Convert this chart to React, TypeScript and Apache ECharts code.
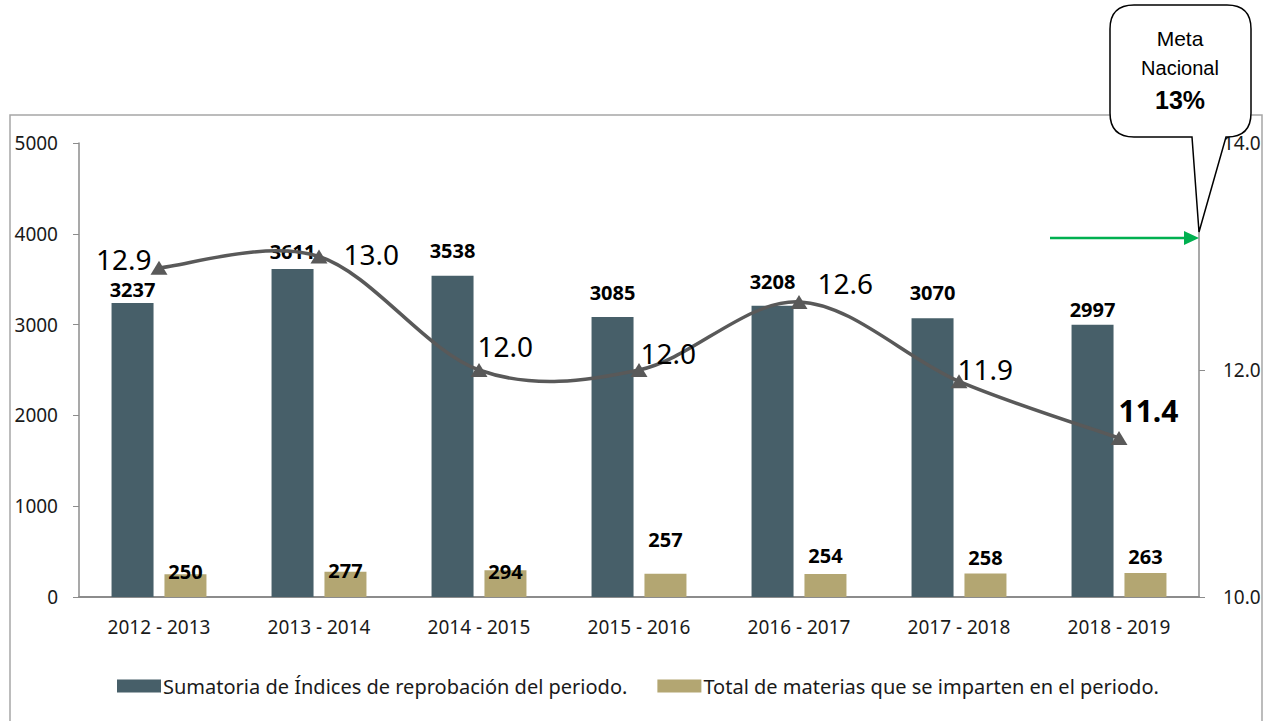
import React, { useEffect, useRef } from "react";
import * as echarts from "echarts";

const categories = [
  "2012 - 2013",
  "2013 - 2014",
  "2014 - 2015",
  "2015 - 2016",
  "2016 - 2017",
  "2017 - 2018",
  "2018 - 2019",
];
const sumatoria = [3237, 3611, 3538, 3085, 3208, 3070, 2997];
const materias = [250, 277, 294, 257, 254, 258, 263];
const indice = [12.9, 13.0, 12.0, 12.0, 12.6, 11.9, 11.4];

const seriesNames = [
  "Sumatoria de Índices de reprobación del periodo.",
  "Total de materias que se imparten en el periodo.",
];
const calloutLines = ["Meta", "Nacional", "13%"];

// label placement (style only)
const darkLabelDist = [4, 8, 15, 14, 14, 16, 5];
const tanLabelDist = [-7, -9, -11, 24, 8, 6, 7];
const lineLabelCfg = [
  { position: "left", offset: [6, -9] },
  { position: "right", offset: [11, -3] },
  { position: "right", offset: [-15, -24] },
  { position: "right", offset: [-12, -17] },
  { position: "right", offset: [5, -19] },
  { position: "right", offset: [-15, -12] },
  { position: "right", offset: [-14, -28], bold: true },
];

const FONT = "'Noto Sans', 'Open Sans', sans-serif";
const DARK = "#475f69";
const TAN = "#b3a672";
const LINE = "#595959";

const CALLOUT_D =
  "M1134,5 H1227 Q1251,5 1251,29 V113 Q1251,137 1227,137 H1226 L1199,232 L1192,137 H1134 Q1110,137 1110,113 V29 Q1110,5 1134,5 Z";

let registered = false;

export default function App() {
  const ref = useRef<HTMLDivElement>(null);

  useEffect(() => {
    document.body.style.margin = "0";
    if (!registered) {
      echarts.graphic.registerShape(
        "callout",
        echarts.graphic.extendPath(CALLOUT_D, {}) as any
      );
      registered = true;
    }
    const chart = echarts.init(ref.current!, null, { renderer: "svg" });

    const n = indice.length;
    const clampIdx = (k: number) => Math.max(0, Math.min(n - 1, k));

    const option: any = {
      animation: false,
      backgroundColor: "#ffffff",
      textStyle: { fontFamily: FONT },
      grid: { left: 79, right: 67, top: 143, bottom: 124, containLabel: false },
      legend: {
        data: seriesNames,
        left: 117,
        top: 676,
        padding: 0,
        itemWidth: 44,
        itemHeight: 13,
        itemGap: 30,
        icon: "rect",
        textStyle: { fontSize: 20, color: "#1a1a1a", fontFamily: FONT, padding: [0, 0, 0, -3] },
      },
      xAxis: {
        type: "category",
        data: categories,
        axisLine: { lineStyle: { color: "#8c8c8c", width: 2 } },
        axisTick: { show: false },
        axisLabel: { fontSize: 19, color: "#1a1a1a", margin: 20, fontFamily: FONT },
      },
      yAxis: [
        {
          type: "value",
          min: 0,
          max: 5000,
          interval: 1000,
          position: "left",
          splitLine: { show: false },
          axisLine: { show: true, lineStyle: { color: "#8c8c8c", width: 1.5 } },
          axisTick: { show: true, inside: false, length: 6, lineStyle: { color: "#8c8c8c" } },
          axisLabel: {
            fontSize: 19,
            color: "#1a1a1a",
            margin: 21,
            fontFamily: FONT,
            formatter: (v: number) => String(v),
          },
        },
        {
          type: "value",
          min: 10,
          max: 14,
          interval: 2,
          position: "right",
          splitLine: { show: false },
          axisLine: { show: true, lineStyle: { color: "#8c8c8c", width: 1.5 } },
          axisTick: { show: true, inside: false, length: 6, lineStyle: { color: "#8c8c8c" } },
          axisLabel: {
            fontSize: 19,
            color: "#1a1a1a",
            margin: 24,
            fontFamily: FONT,
            formatter: (v: number) => v.toFixed(1),
          },
        },
      ],
      series: [
        {
          name: seriesNames[0],
          type: "bar",
          yAxisIndex: 0,
          barWidth: 42,
          barGap: "26%",
          itemStyle: { color: DARK },
          data: sumatoria.map((v, i) => ({
            value: v,
            label: {
              show: true,
              position: "top",
              distance: darkLabelDist[i],
              fontSize: 20,
              lineHeight: 20,
              fontWeight: "bold",
              color: "#000",
              fontFamily: FONT,
            },
          })),
        },
        {
          name: seriesNames[1],
          type: "bar",
          yAxisIndex: 0,
          barWidth: 42,
          itemStyle: { color: TAN },
          z: 3,
          data: materias.map((v, i) => ({
            value: v,
            label: {
              show: true,
              position: "top",
              distance: tanLabelDist[i],
              fontSize: 20,
              lineHeight: 20,
              fontWeight: "bold",
              color: "#000",
              fontFamily: FONT,
            },
          })),
        },
        {
          // smooth curve (Excel-style Catmull-Rom) through the index points
          name: "curve",
          type: "custom",
          yAxisIndex: 1,
          z: 4,
          silent: true,
          data: indice.map((v, i) => [i, v]),
          renderItem: (params: any, api: any) => {
            const i = params.dataIndex;
            if (i >= n - 1) return null;
            const P = (k: number) => {
              const c = clampIdx(k);
              return api.coord([c, indice[c]]);
            };
            const p0 = P(i - 1);
            const p1 = P(i);
            const p2 = P(i + 1);
            const p3 = P(i + 2);
            const t = 1 / 6;
            return {
              type: "bezierCurve",
              shape: {
                x1: p1[0],
                y1: p1[1],
                x2: p2[0],
                y2: p2[1],
                cpx1: p1[0] + (p2[0] - p0[0]) * t,
                cpy1: p1[1] + (p2[1] - p0[1]) * t,
                cpx2: p2[0] - (p3[0] - p1[0]) * t,
                cpy2: p2[1] - (p3[1] - p1[1]) * t,
              },
              style: { stroke: LINE, lineWidth: 3.5, fill: null, lineCap: "round" },
            };
          },
        },
        {
          name: "Índice",
          type: "line",
          yAxisIndex: 1,
          z: 5,
          symbol: "triangle",
          symbolSize: [17, 14],
          lineStyle: { width: 0, opacity: 0 },
          itemStyle: { color: LINE },
          data: indice.map((v, i) => ({
            value: v,
            label: {
              show: true,
              position: lineLabelCfg[i].position,
              offset: lineLabelCfg[i].offset,
              distance: 5,
              fontSize: lineLabelCfg[i].bold ? 30 : 28,
              lineHeight: lineLabelCfg[i].bold ? 30 : 28,
              fontWeight: lineLabelCfg[i].bold ? "bold" : "normal",
              color: "#000",
              fontFamily: FONT,
              formatter: (p: any) => Number(p.value).toFixed(1),
            },
          })),
        },
      ],
      graphic: [
        {
          type: "rect",
          z: 0,
          silent: true,
          shape: { x: 10, y: 115, width: 1252, height: 700 },
          style: { fill: "none", stroke: "#a6a6a6", lineWidth: 1.5 },
        },
        {
          type: "line",
          z: 50,
          shape: { x1: 1050, y1: 238, x2: 1186, y2: 238 },
          style: { stroke: "#00b050", lineWidth: 2.5 },
        },
        {
          type: "polygon",
          z: 50,
          shape: {
            points: [
              [1184, 231],
              [1199, 238],
              [1184, 245],
            ],
          },
          style: { fill: "#00b050" },
        },
        {
          type: "callout",
          z: 60,
          x: 0,
          y: 0,
          style: { fill: "#ffffff", stroke: "#000000", lineWidth: 1.5 },
        },
        {
          type: "text",
          z: 61,
          x: 1180,
          y: 38,
          style: {
            text: calloutLines[0],
            fontSize: 21,
            fontFamily: "'Liberation Sans', Arial, sans-serif",
            fill: "#000",
            align: "center",
            verticalAlign: "middle",
          },
        },
        {
          type: "text",
          z: 61,
          x: 1180,
          y: 68,
          style: {
            text: calloutLines[1],
            fontSize: 20,
            fontFamily: "'Liberation Sans', Arial, sans-serif",
            fill: "#000",
            align: "center",
            verticalAlign: "middle",
          },
        },
        {
          type: "text",
          z: 61,
          x: 1180,
          y: 100,
          style: {
            text: calloutLines[2],
            fontSize: 25,
            fontWeight: "bold",
            fontFamily: "'Liberation Sans', Arial, sans-serif",
            fill: "#000",
            align: "center",
            verticalAlign: "middle",
          },
        },
      ],
    };

    chart.setOption(option);
    return () => chart.dispose();
  }, []);

  return <div ref={ref} style={{ width: 1266, height: 721 }} />;
}
